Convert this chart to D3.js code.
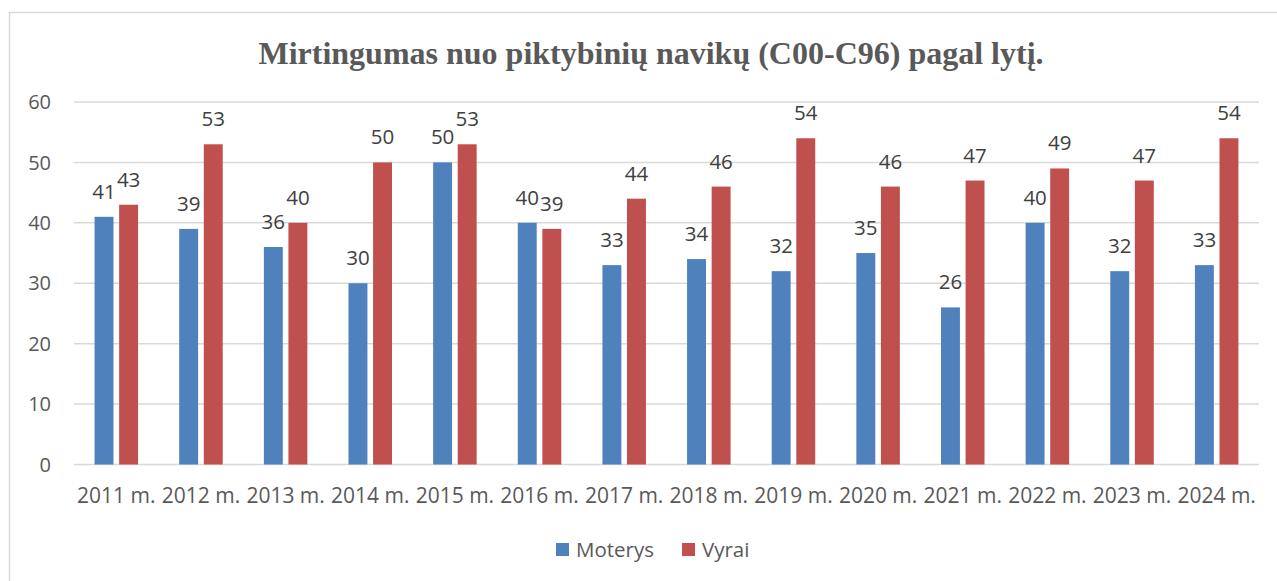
<!DOCTYPE html>
<html>
<head>
<meta charset="utf-8">
<script src="https://cdn.jsdelivr.net/npm/d3@7"></script>
<style>
  body { margin: 0; background: #fff; }
  svg { display: block; }
</style>
</head>
<body>
<div id="chart"></div>
<script>
// Chart data
var years = ["2011 m.", "2012 m.", "2013 m.", "2014 m.", "2015 m.", "2016 m.", "2017 m.",
             "2018 m.", "2019 m.", "2020 m.", "2021 m.", "2022 m.", "2023 m.", "2024 m."];
var seriesNames = ["Moterys", "Vyrai"];
var moterys = [41, 39, 36, 30, 50, 40, 33, 34, 32, 35, 26, 40, 32, 33];
var vyrai = [43, 53, 40, 50, 53, 39, 44, 46, 54, 46, 47, 49, 47, 54];
var yTicks = [0, 10, 20, 30, 40, 50, 60];
var title = "Mirtingumas nuo piktybinių navikų (C00-C96) pagal lytį.";

var width = 1277,
    height = 581;

var plot = { left: 74, right: 1259, top: 102, bottom: 464.5 };

var colors = { "Moterys": "#4F81BD", "Vyrai": "#C0504D" };
var textColor = "#595959";
var labelColor = "#404040";
var gridColor = "#d9d9d9";
var font = "'Open Sans', 'Noto Sans', sans-serif";

var rows = years.map(function(y, i) {
    return { year: y, Moterys: moterys[i], Vyrai: vyrai[i] };
});

var svg = d3.select("#chart")
    .append("svg")
    .attr("width", width)
    .attr("height", height);

// Outer chart border
svg.append("rect")
    .attr("x", 9.5)
    .attr("y", 12.5)
    .attr("width", width)
    .attr("height", height)
    .attr("fill", "none")
    .attr("stroke", gridColor)
    .attr("stroke-width", 1.5);

// Title
svg.append("text")
    .attr("x", 651)
    .attr("y", 64)
    .attr("text-anchor", "middle")
    .attr("fill", textColor)
    .style("font-family", "'Liberation Serif', 'Times New Roman', serif")
    .style("font-weight", "bold")
    .style("font-size", "32px")
    .text(title);

// Scales
var x0 = d3.scaleBand()
    .domain(years)
    .range([plot.left, plot.right])
    .paddingInner(0.486)
    .paddingOuter(0.243);

var x1 = d3.scaleBand()
    .domain(seriesNames)
    .range([0, x0.bandwidth()])
    .paddingInner(0.23);

var y = d3.scaleLinear()
    .domain([0, 60])
    .range([plot.bottom, plot.top]);

// Gridlines
svg.append("g")
    .selectAll("line")
    .data(yTicks)
    .enter()
    .append("line")
    .attr("x1", plot.left)
    .attr("x2", plot.right)
    .attr("y1", d => y(d))
    .attr("y2", d => y(d))
    .attr("stroke", gridColor)
    .attr("stroke-width", 1.5);

// Y tick labels
svg.append("g")
    .selectAll("text")
    .data(yTicks)
    .enter()
    .append("text")
    .attr("x", 51)
    .attr("y", d => y(d))
    .attr("dy", "0.36em")
    .attr("text-anchor", "end")
    .attr("fill", textColor)
    .style("font-family", font)
    .style("font-size", "20px")
    .text(d => d);

// X labels
svg.append("g")
    .selectAll("text")
    .data(years)
    .enter()
    .append("text")
    .attr("x", d => x0(d) + x0.bandwidth() / 2)
    .attr("y", 503)
    .attr("text-anchor", "middle")
    .attr("fill", textColor)
    .style("font-family", font)
    .style("font-size", "21px")
    .text(d => d);

// Bars
var groups = svg.append("g")
    .selectAll("g")
    .data(rows)
    .enter()
    .append("g")
    .attr("transform", d => "translate(" + x0(d.year) + ",0)");

groups.selectAll("rect")
    .data(d => seriesNames.map(k => ({ key: k, value: d[k] })))
    .enter()
    .append("rect")
    .attr("x", d => x1(d.key))
    .attr("y", d => y(d.value))
    .attr("width", x1.bandwidth())
    .attr("height", d => y(0) - y(d.value))
    .attr("fill", d => colors[d.key]);

// Value labels
groups.selectAll("text")
    .data(d => seriesNames.map(k => ({ key: k, value: d[k] })))
    .enter()
    .append("text")
    .attr("x", d => x1(d.key) + x1.bandwidth() / 2)
    .attr("y", d => y(d.value) - 18)
    .attr("text-anchor", "middle")
    .attr("fill", labelColor)
    .style("font-family", font)
    .style("font-size", "20.5px")
    .text(d => d.value);

// Legend
var legendX = [556, 682];
var legend = svg.append("g")
    .selectAll("g")
    .data(seriesNames)
    .enter()
    .append("g")
    .attr("transform", (d, i) => "translate(" + legendX[i] + ",543)");

legend.append("rect")
    .attr("width", 13)
    .attr("height", 13)
    .attr("fill", d => colors[d]);

legend.append("text")
    .attr("x", 20)
    .attr("y", 6.5)
    .attr("dy", "0.36em")
    .attr("fill", textColor)
    .style("font-family", font)
    .style("font-size", "20.5px")
    .text(d => d);
</script>
</body>
</html>
